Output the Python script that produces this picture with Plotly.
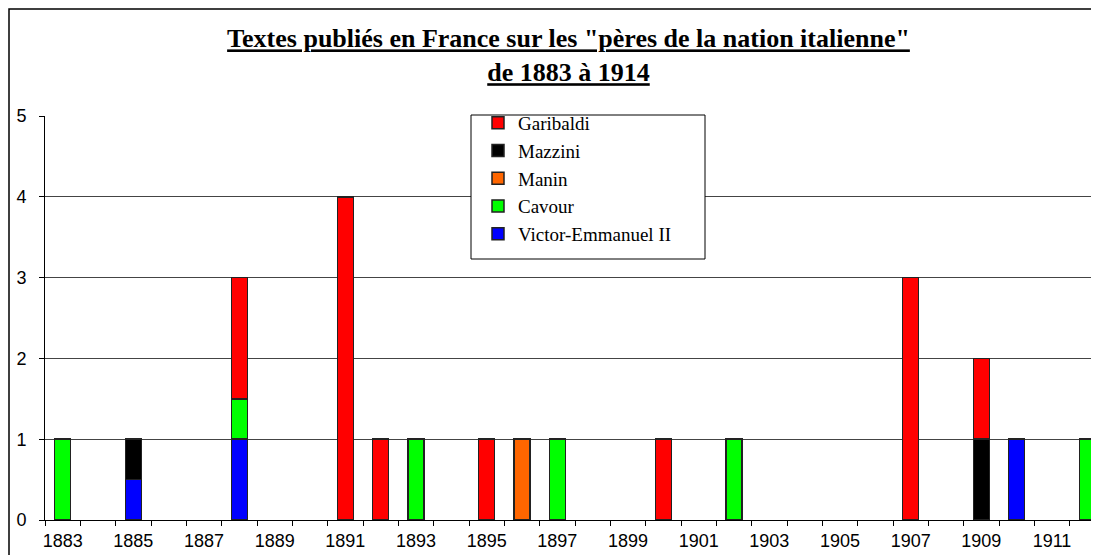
import plotly.graph_objects as go

years = list(range(1883, 1913))

# values per year (stacked)
victor_emmanuel = {1885: 0.5, 1888: 1, 1910: 1}
cavour = {1883: 1, 1888: 0.5, 1893: 1, 1897: 1, 1902: 1, 1912: 1}
manin = {1896: 1}
mazzini = {1885: 0.5, 1909: 1}
garibaldi = {1888: 1.5, 1891: 4, 1892: 1, 1895: 1, 1900: 1, 1907: 3, 1909: 1}

series = [
    ("Victor-Emmanuel II", victor_emmanuel, "#0000FF"),
    ("Cavour", cavour, "#00FF00"),
    ("Manin", manin, "#FF6600"),
    ("Mazzini", mazzini, "#000000"),
    ("Garibaldi", garibaldi, "#FF0000"),
]

fig = go.Figure()
for name, vals, color in series:
    fig.add_trace(go.Bar(
        x=years,
        y=[vals.get(y) for y in years],
        name=name,
        marker=dict(color=color, line=dict(color="#222222", width=1.5)),
    ))

W, H = 1099, 555
L, R, T, B = 37, 2, 108, 43
pw, ph = W - L - R, H - T - B


def px_x(x):
    return (x - L) / pw


def px_y(y):
    return (H - B - y) / ph


fig.update_layout(
    width=W, height=H,
    barmode="stack",
    bargap=0.55,
    plot_bgcolor="white",
    paper_bgcolor="white",
    margin=dict(l=L, r=R, t=T, b=B),
    title=dict(
        text='<b><u>Textes publiés en France sur les "pères de la nation italienne"</u></b><br>'
             '<b><u>de 1883 à 1914</u></b>',
        x=0.51, xanchor="center", y=0.929, yanchor="top",
        font=dict(family="Liberation Serif", size=26, color="black"),
    ),
    legend=dict(
        x=px_x(470), xanchor="left", y=px_y(96), yanchor="top",
        traceorder="reversed",
        borderwidth=0, bgcolor="rgba(0,0,0,0)",
        font=dict(family="Liberation Serif", size=19, color="black"),
        tracegroupgap=0,
    ),
    xaxis=dict(
        range=[1882.5, 1912.5],
        tickvals=list(range(1883, 1912, 2)),
        ticks="", showgrid=False,
        showline=True, linecolor="black", linewidth=1,
        ticklabelstandoff=4,
        tickfont=dict(family="Liberation Sans", size=18, color="black"),
        minor=dict(tickvals=[y + 0.5 for y in range(1882, 1912)],
                   ticks="outside", ticklen=5, tickcolor="black", showgrid=False),
    ),
    yaxis=dict(
        range=[0, 5], dtick=1,
        ticks="outside", ticklen=5, tickcolor="black",
        showline=True, linecolor="black", linewidth=1,
        showgrid=True, gridcolor="#444444", gridwidth=1,
        ticklabelstandoff=9,
        tickfont=dict(family="Liberation Sans", size=18, color="black"),
    ),
    shapes=[
        dict(type="rect", xref="paper", yref="paper",
             x0=px_x(1), x1=px_x(W - 1), y0=px_y(H - 1), y1=px_y(1),
             line=dict(color="black", width=1.5)),
        dict(type="rect", xref="paper", yref="paper",
             x0=px_x(463), x1=px_x(697), y0=px_y(251), y1=px_y(107),
             fillcolor="white", layer="above",
             line=dict(color="black", width=1)),
    ],
)

fig.write_html("out.html")
